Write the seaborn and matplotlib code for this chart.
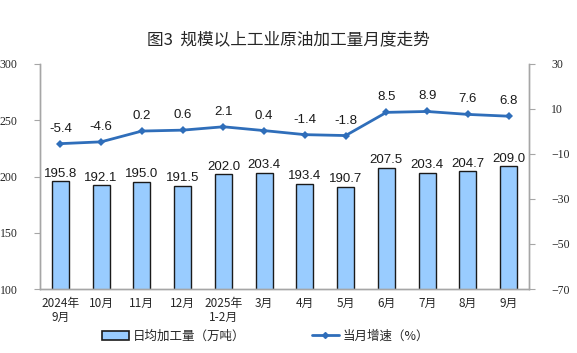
import numpy as np
import matplotlib
matplotlib.use("Agg")
import matplotlib.pyplot as plt
import seaborn as sns
from matplotlib.patches import Patch
from matplotlib.lines import Line2D

months = ["2024年\n9月", "10月", "11月", "12月", "2025年\n1-2月", "3月", "4月",
          "5月", "6月", "7月", "8月", "9月"]
daily_output = [195.8, 192.1, 195.0, 191.5, 202.0, 203.4, 193.4, 190.7, 207.5, 203.4, 204.7, 209.0]
growth = [-5.4, -4.6, 0.2, 0.6, 2.1, 0.4, -1.4, -1.8, 8.5, 8.9, 7.6, 6.8]

sns.set_style("white")
plt.rcParams["font.family"] = ["Noto Sans CJK SC", "DejaVu Sans"]

bar_color = "#99CCFF"
line_color = "#2F6EBA"
axis_gray = "#A6A6A6"
num_font = ["Liberation Serif", "Noto Sans CJK SC"]

fig = plt.figure(figsize=(5.77, 3.53), dpi=100)
ax = fig.add_axes([40 / 577, 1 - 289 / 353, 489 / 577, 225 / 353])

sns.barplot(x=months, y=daily_output, color=bar_color, width=0.42,
            edgecolor="#1a1a1a", linewidth=1.0, saturation=1, ax=ax)
ax.set_ylim(100, 300)
ax.set_yticks([100, 150, 200, 250, 300])
ax.set_xlim(-0.5, 11.5)
for i, v in enumerate(daily_output):
    ax.text(i, v + 1.5, f"{v:.1f}", ha="center", va="bottom", fontsize=9.5,
            family="Liberation Sans", color="#1a1a1a")

ax2 = ax.twinx()
sns.lineplot(x=np.arange(len(growth)), y=growth, color=line_color, marker="D",
             markersize=4, markeredgewidth=0, linewidth=2, ax=ax2)
ax2.set_ylim(-70, 30)
ax2.set_yticks([-70, -50, -30, -10, 10, 30])
for i, g in enumerate(growth):
    ax2.text(i, g + 4, f"{g:.1f}", ha="center", va="bottom", fontsize=9.5,
             family="Liberation Sans", color="#1a1a1a")

for a in (ax, ax2):
    a.spines["top"].set_visible(False)
    for s in ("left", "right", "bottom"):
        a.spines[s].set_color(axis_gray)
        a.spines[s].set_linewidth(1)
ax.set_xticks(range(len(months)))
ax.set_xticklabels(months, fontsize=8.5, linespacing=1.1)
ax.tick_params(axis="x", length=0, pad=6)
ax.set_xticks(np.arange(0.5, 11.5, 1), minor=True)
ax.tick_params(axis="x", which="minor", length=3, direction="in", color=axis_gray)
ax.tick_params(axis="y", length=4, color=axis_gray, direction="out", labelsize=8.5, pad=12)
ax2.tick_params(axis="y", length=4, color=axis_gray, direction="out", labelsize=8.5, pad=12)
for lbl in ax.get_yticklabels() + ax2.get_yticklabels():
    lbl.set_family(num_font)
ax.set_ylabel("")
ax2.set_ylabel("")

fig.text(0.5, 1 - 40 / 353, "图3  规模以上工业原油加工量月度走势", ha="center", va="center",
         fontsize=12, fontweight="medium")

handles = [Patch(facecolor=bar_color, edgecolor="#1a1a1a", linewidth=1.2),
           Line2D([0], [0], color=line_color, marker="D", markersize=3, linewidth=2)]
fig.legend(handles, ["日均加工量（万吨）", "当月增速（%）"], loc="center",
           bbox_to_anchor=(0.46, 1 - 336 / 353), ncol=2, frameon=False, fontsize=9,
           columnspacing=5.3, handlelength=2.2, handletextpad=0.3)

fig.savefig("out.png", dpi=100)
